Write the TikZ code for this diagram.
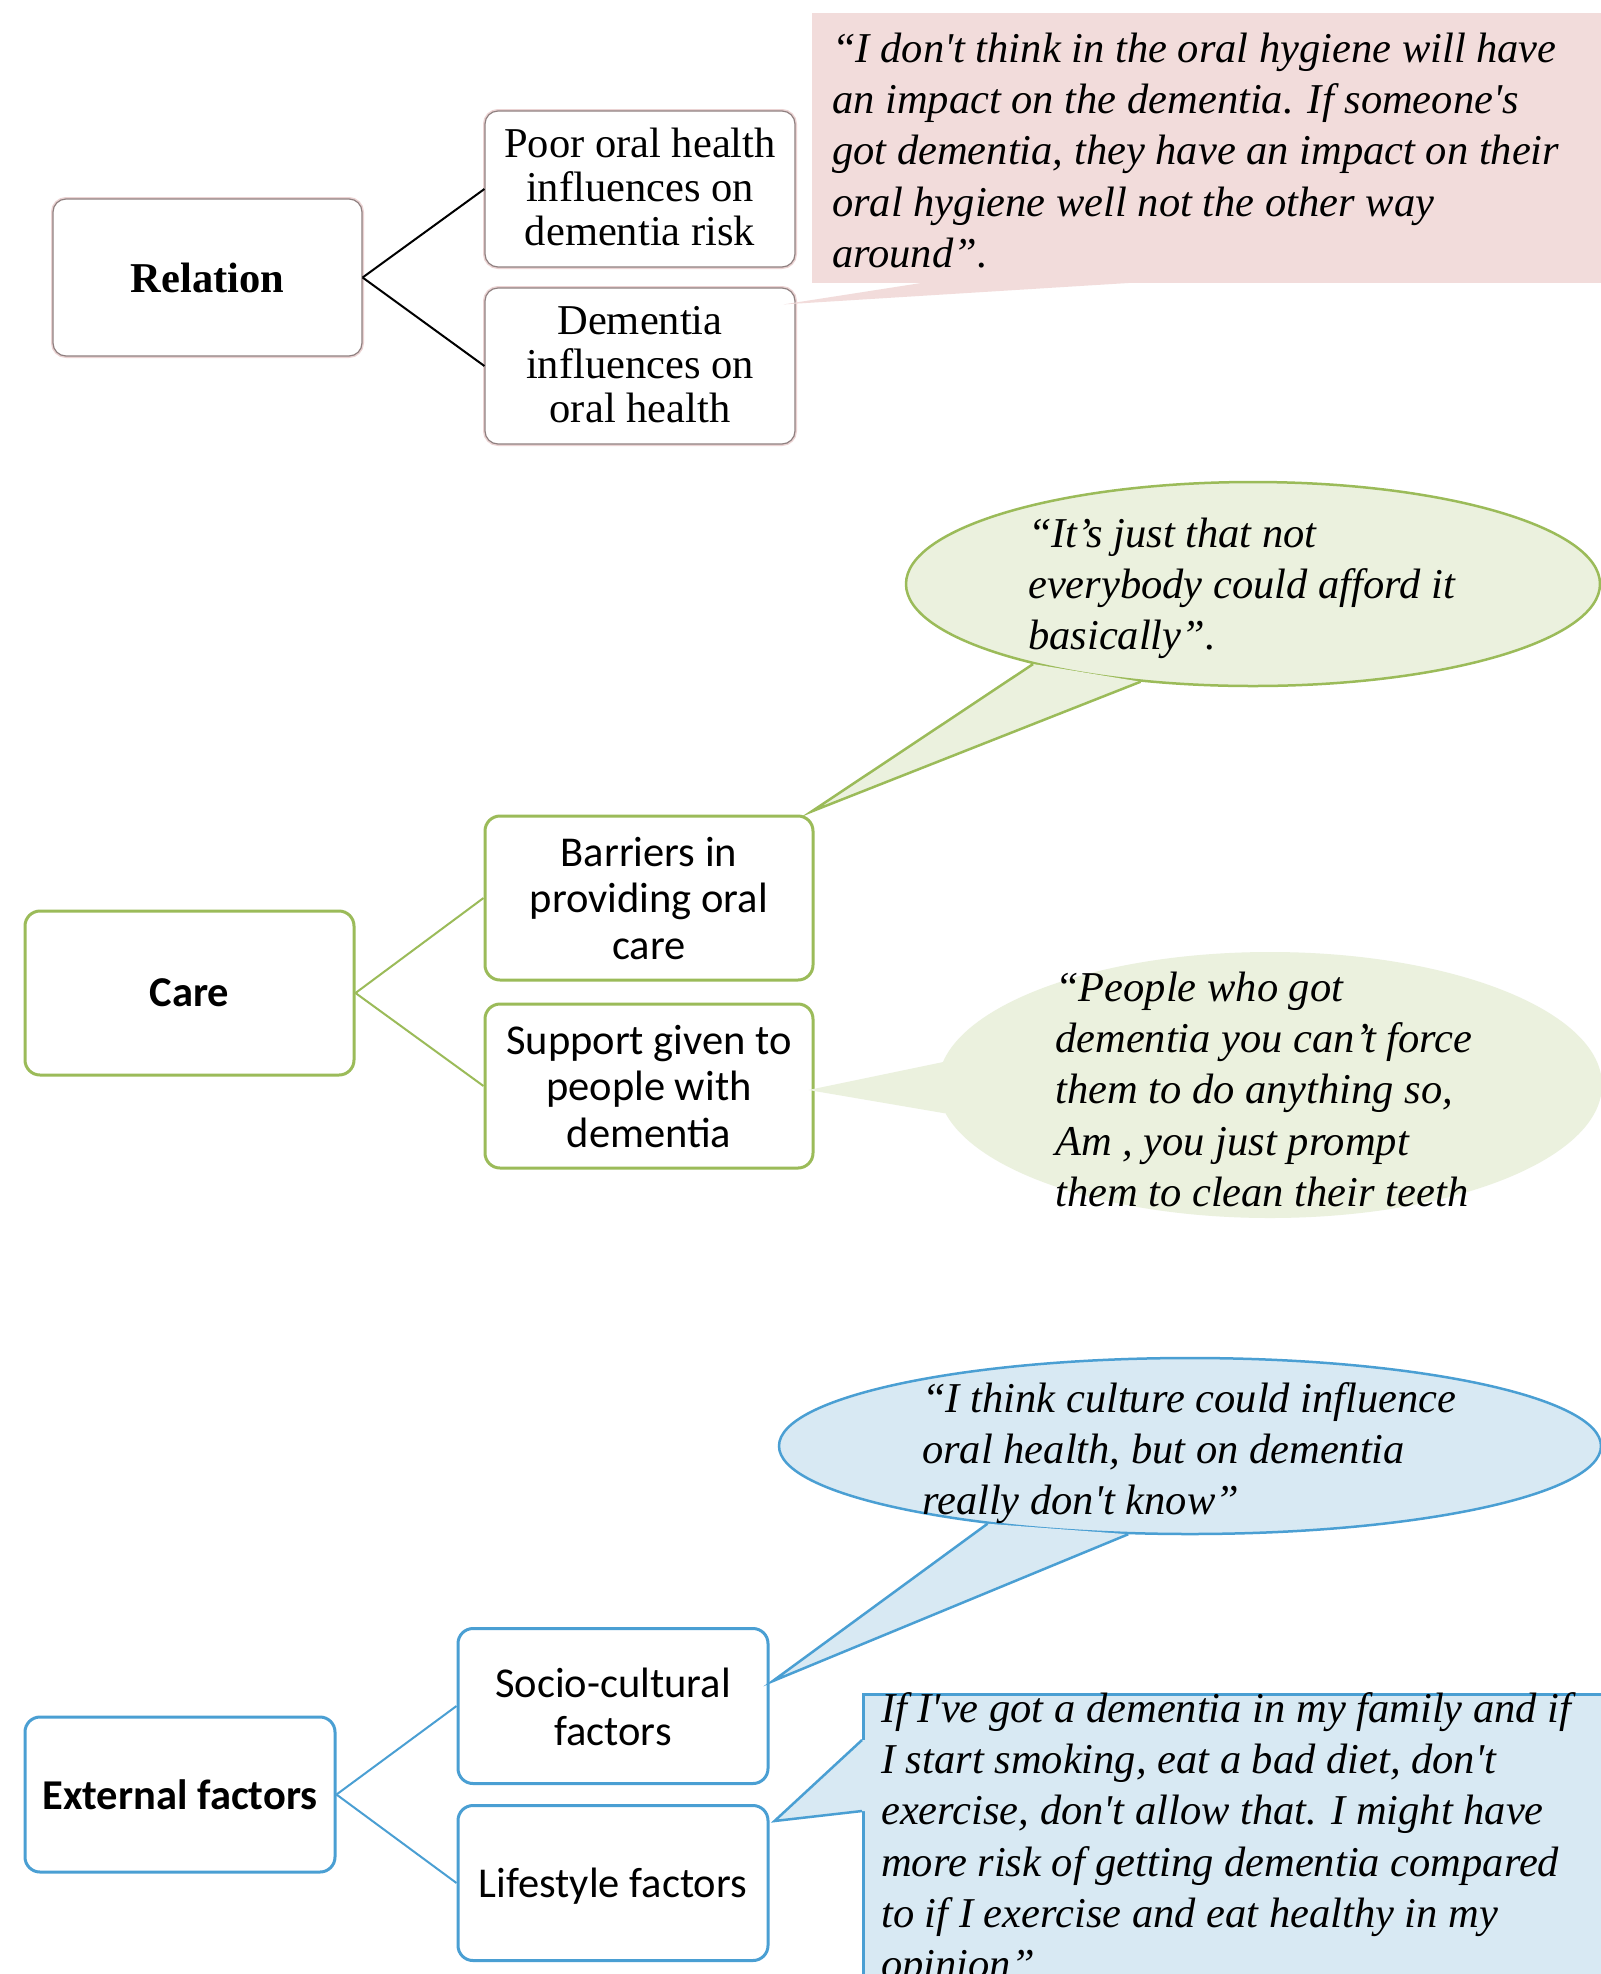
\documentclass[tikz,border=0pt]{standalone}
\usepackage{fontspec}
\setmainfont{Liberation Serif}
\newfontfamily\calfont{Carlito}
\newfontfamily\qfont{Liberation Serif}[Ligatures=TeXOff]
\usetikzlibrary{shapes.geometric,calc}

\definecolor{pinkfill}{HTML}{F2DCDB}
\definecolor{greenfill}{HTML}{EBF1DE}
\definecolor{greenline}{HTML}{9BBB59}
\definecolor{bluefill}{HTML}{D8E9F3}
\definecolor{blueline}{HTML}{4A9FD3}
\definecolor{relgray}{HTML}{8F8080}
\definecolor{relpink}{HTML}{EBD3D3}

% first-line strut, a little taller so the text block sits lower
\newcommand\fsa{\rule[-.3\baselineskip]{0pt}{\dimexpr\baselineskip+8pt\relax}}
\newcommand\fsb{\rule[-.3\baselineskip]{0pt}{\dimexpr\baselineskip+11pt\relax}}

\tikzset{
  relbox/.style={draw=relgray, line width=1.2pt, preaction={draw=relpink, line width=4pt},
    fill=white, rounded corners=13pt, minimum width=310pt, minimum height=156pt,
    inner sep=0pt, align=center, font=\fontsize{42.5}{44}\selectfont},
  carebox/.style={draw=greenline, line width=3pt, fill=white, rounded corners=15pt,
    minimum width=328pt, minimum height=164pt, inner sep=0pt, align=center,
    font=\calfont\fontsize{42.5}{46.6}\selectfont},
  extbox/.style={draw=blueline, line width=3pt, fill=white, rounded corners=15pt,
    minimum width=310pt, minimum height=155pt, inner sep=0pt, align=center,
    font=\calfont\fontsize{42.5}{48}\selectfont},
  quote/.style={anchor=north west, inner sep=0pt, align=left,
    font=\qfont\itshape\fontsize{42.5}{51.2}\selectfont},
  relline/.style={draw=black, line width=2pt},
  careline/.style={draw=greenline, line width=2pt},
  extline/.style={draw=blueline, line width=2pt},
  callg/.style={draw=greenline, line width=2.5pt},
  callb/.style={draw=blueline, line width=2.5pt}
}

\begin{document}
\begin{tikzpicture}[x=1pt,y=-1pt]
\useasboundingbox (0,0) rectangle (1601,1974);
\fill[white] (0,0) rectangle (1601,1974);
\clip (0,0) rectangle (1601,1974);

% ---------------- Relation ----------------
\node[relbox, font=\bfseries\fontsize{42.5}{44}\selectfont, minimum width=309pt, minimum height=157pt] (rel) at (207.5,277.5) {Relation};
\node[relbox] (poor) at (640,189) {\fsa Poor oral health\\\strut influences on\\\strut dementia risk};
\node[relbox] (dem) at (640,366) {\fsa Dementia\\\strut influences on\\\strut oral health};
\draw[relline] (rel.east) -- (poor.west);
\draw[relline] (rel.east) -- (dem.west);

% pink callout
\node[fill=pinkfill, minimum width=789pt, minimum height=270pt, anchor=north west, inner sep=0pt] (pinkbox) at (812,13) {};
\coordinate (p1) at ($(pinkbox.south west)+(113,-1)$);
\coordinate (p2) at ($(pinkbox.south west)+(326,-1)$);
\coordinate (tp) at ($(dem.north east)+(-12,17)$);
\fill[pinkfill] (p1) -- (tp) -- (p2) -- cycle;
\node[quote] (q1) at (832,26.5) {\strut “I don't think in the oral hygiene will have\\an impact on the dementia. If someone's\\got dementia, they have an impact on their\\oral hygiene well not the other way\\around”.};

% ---------------- Care ----------------
\node[carebox, font=\calfont\bfseries\fontsize{42.5}{46.6}\selectfont, minimum width=329pt] (care) at (189.5,993) {Care};
\node[carebox] (barriers) at (649,898) {\fsb Barriers in\\\strut providing oral\\\strut care};
\node[carebox] (support) at (649,1086) {\fsb Support given to\\\strut people with\\\strut dementia};
\draw[careline] (care.east) -- (barriers.west);
\draw[careline] (care.east) -- (support.west);

% green callout 1
\node[ellipse, callg, fill=greenfill, minimum width=694pt, minimum height=204pt, inner sep=0pt] (e1) at (1253,584) {};
\coordinate (t1) at ($(barriers.north east)+(-3,-3)$);
\fill[greenfill] (e1.200) -- (t1) -- (e1.221.5) -- cycle;
\draw[callg] (e1.200) -- (t1) -- (e1.221.5);
\node[quote] (q2) at (1028,511.5) {\strut “It’s just that not\\everybody could afford it\\basically”.};

% green callout 2
\node[ellipse, fill=greenfill, minimum width=664pt, minimum height=266pt, inner sep=0pt] (e2) at (1270,1085) {};
\coordinate (t2) at ($(support.east)+(-6,4)$);
\fill[greenfill] (e2.176.2) -- (t2) -- (e2.185.1) -- cycle;
\node[quote] (q3) at (1055,965.5) {\strut “People who got\\dementia you can’t force\\them to do anything so,\\Am , you just prompt\\them to clean their teeth};

% ---------------- External factors ----------------
\node[extbox, font=\calfont\bfseries\fontsize{42.5}{48}\selectfont] (ext) at (180,1794.5) {External factors};
\node[extbox] (socio) at (613,1706) {\fsb Socio-cultural\\\strut factors};
\node[extbox, text height=38pt, text depth=9pt] (life) at (613,1883) {Lifestyle factors};
\draw[extline] (ext.east) -- (socio.west);
\draw[extline] (ext.east) -- (life.west);

% blue ellipse callout
\node[ellipse, callb, fill=bluefill, minimum width=822pt, minimum height=176pt, inner sep=0pt] (e3) at (1190,1446) {};
\coordinate (t3) at ($(socio.9)+(3,0)$);
\fill[bluefill] (e3.201) -- (t3) -- (e3.235) -- cycle;
\draw[callb] (e3.201) -- (t3) -- (e3.235);
\node[quote] (q4) at (922,1376.5) {\strut “I think culture could influence\\oral health, but on dementia\\really don't know”};

% blue rectangle callout
\node[callb, fill=bluefill, minimum width=800pt, minimum height=400pt, anchor=north west, inner sep=0pt] (br) at (862,1693) {};
\coordinate (b1) at ($(br.north west)+(0,47)$);
\coordinate (b2) at ($(br.north west)+(0,118)$);
\coordinate (t4) at ($(life.north east)+(5,17)$);
\fill[bluefill] (b1) -- (t4) -- (b2) -- ($(b2)+(3,0)$) -- ($(b1)+(3,0)$) -- cycle;
\draw[callb] (b1) -- (t4) -- (b2);
\node[quote] (q5) at (881,1686.5) {\strut If I've got a dementia in my family and if\\I start smoking, eat a bad diet, don't\\exercise, don't allow that. I might have\\more risk of getting dementia compared\\to if I exercise and eat healthy in my\\opinion”};
\end{tikzpicture}
\end{document}
